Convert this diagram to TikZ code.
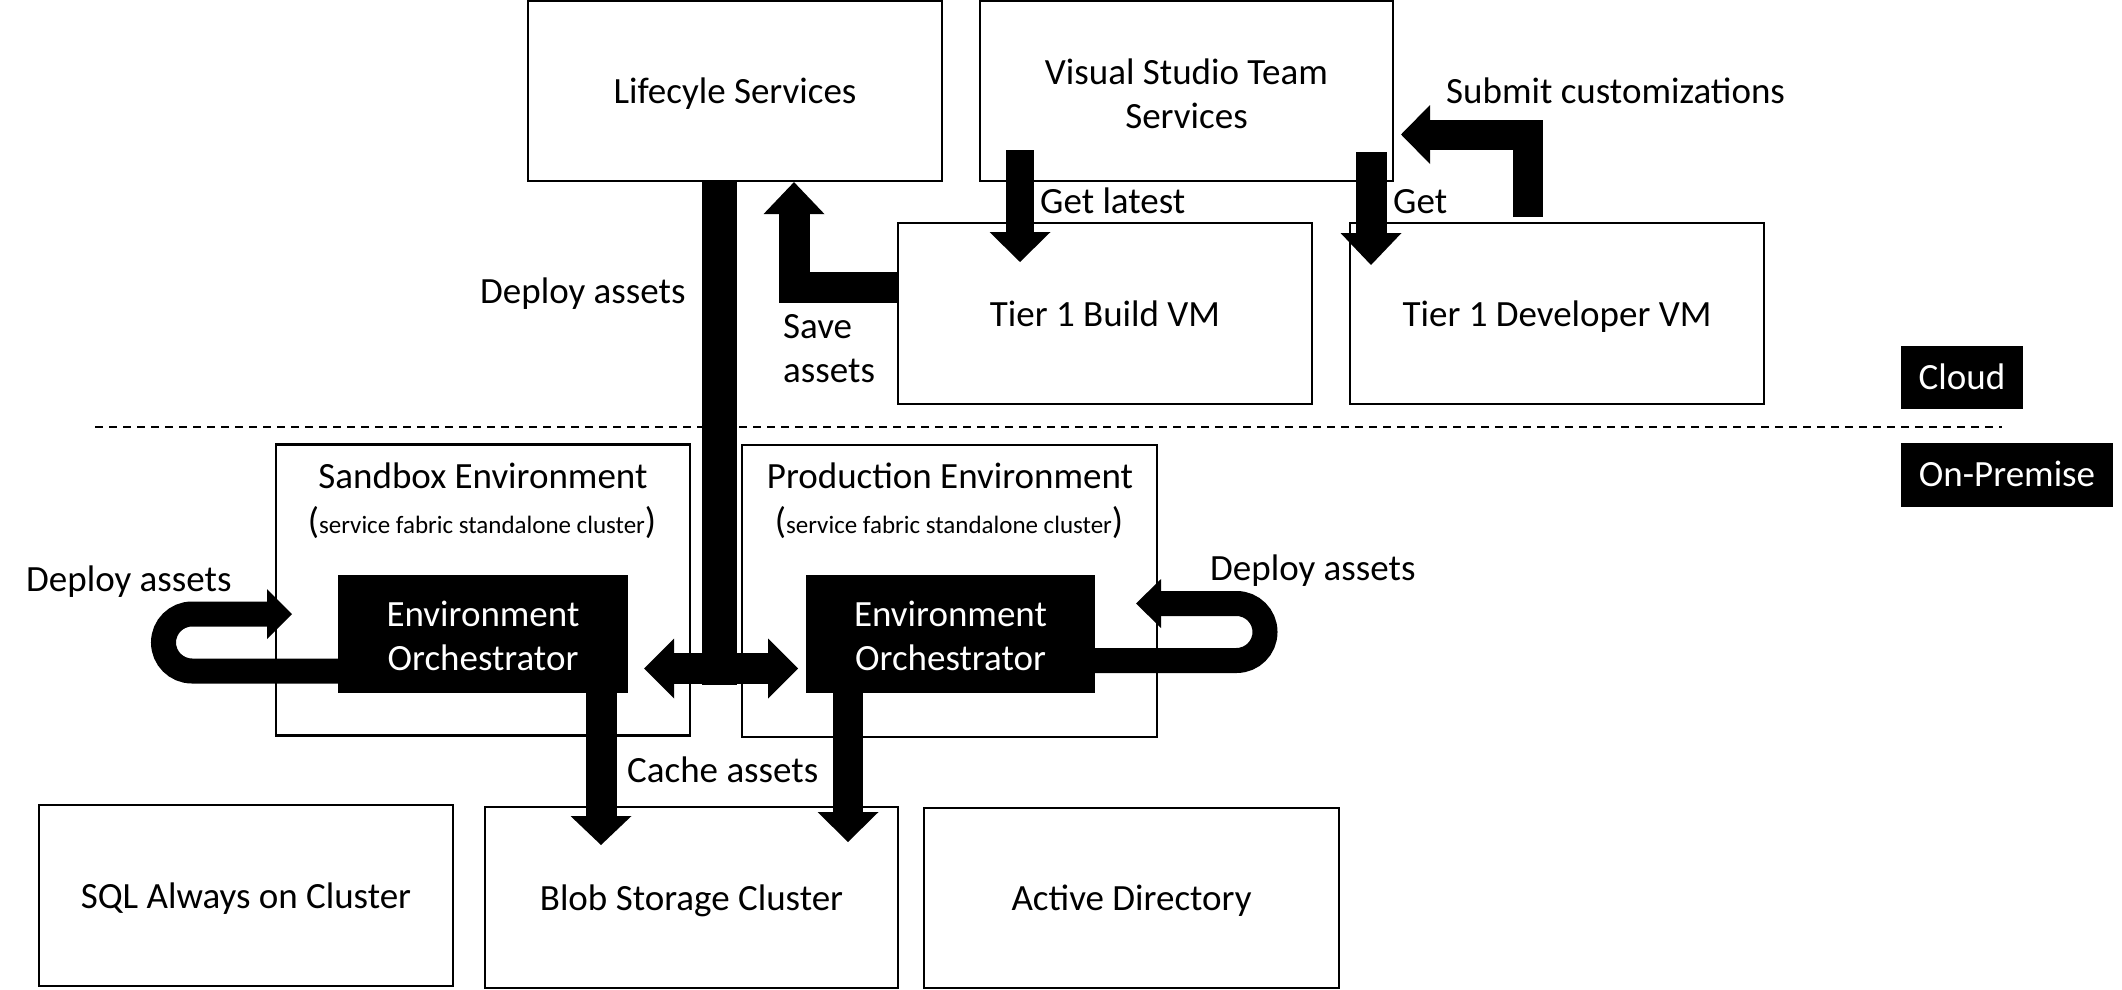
\documentclass[tikz,border=0pt]{standalone}
\usepackage{fontspec}
\setmainfont{Carlito}
\usetikzlibrary{arrows.meta,calc}
\newcommand{\mainfs}{\fontsize{37}{44}\selectfont}
\newcommand{\smallfs}{\fontsize{25}{30}\selectfont}
\tikzset{
  box/.style={draw, line width=2.2pt, inner sep=0pt, font=\mainfs, align=center,
              text height=26pt, text depth=0.5pt},
  darkbox/.style={fill=black, text=white, inner sep=0pt, font=\mainfs, align=center},
  lbl/.style={inner sep=0pt, font=\mainfs, align=left},
  blk/.style={draw=black, line join=miter, line cap=butt},
  tipA/.style={-{Triangle[length=#1, width=61pt, line width=0pt]}},
}
\begin{document}
\begin{tikzpicture}[x=1pt, y=-1pt]
\useasboundingbox (0,0) rectangle (2122,990);
% boxes
\node[box, minimum width=414pt, minimum height=180pt] (ls) at (735,91) {Lifecyle Services};
\node[box, minimum width=413pt, minimum height=180pt, text height=, text depth=] (vs) at (1186.5,91) {};
\node[lbl, align=center, anchor=center] (vst) at (1186.5,94) {Visual Studio Team\\Services};
\node[box, minimum width=414pt, minimum height=181pt] (b1) at (1105,313.5) {Tier 1 Build VM};
\node[box, minimum width=414pt, minimum height=181pt] (d1) at (1557,313.5) {Tier 1 Developer VM};
\node[box, minimum width=414pt, minimum height=291pt] (sb) at (483,590) {};
\node[box, minimum width=415pt, minimum height=292pt] (pe) at (949.5,591) {};
\node[box, minimum width=414pt, minimum height=181pt] (sql) at (246,895.5) {SQL Always on Cluster};
\node[box, minimum width=413pt, minimum height=181pt] (blob) at (691.5,897.5) {Blob Storage Cluster};
\node[box, minimum width=415pt, minimum height=180pt] (ad) at (1131.5,898) {Active Directory};
% environment titles
\node[lbl, anchor=base] (sbt) at (483,488) {Sandbox Environment};
\node[lbl, anchor=base] (sbs) at (482,533) {(\smallfs service fabric standalone cluster\mainfs)};
\node[lbl, anchor=base] (pet) at (950,488) {Production Environment};
\node[lbl, anchor=base] (pes) at (949,533) {(\smallfs service fabric standalone cluster\mainfs)};
% orchestrators
\node[darkbox, minimum width=290pt, minimum height=118pt] (so) at (483,634) {};
\node[darkbox, minimum width=289pt, minimum height=118pt] (po) at (950.5,634) {};
\node[lbl, align=center, text=white] (sot) at (483,636) {Environment\\Orchestrator};
\node[lbl, align=center, text=white] (pot) at (950.5,636) {Environment\\Orchestrator};
% zone labels
\node[darkbox, minimum width=122pt, minimum height=63pt, text height=25pt, text depth=2pt] (cloud) at (1962,377.5) {Cloud};
\node[darkbox, minimum width=212pt, minimum height=64pt, text height=25pt, text depth=2pt] (onp) at (2007,475) {On-Premise};
% dashed separator
\coordinate (dsl) at (95,427);
\coordinate (dsr) at (2002,427);
\draw[line width=2.5pt, dash pattern=on 8pt off 6pt] (dsl) -- (dsr);
% connector labels
\node[lbl, anchor=base west] (l1) at (480,303) {Deploy assets};
\node[lbl, anchor=west] (l2) at (783,349) {Save\\assets};
\node[lbl, anchor=base west] (l3) at (1040,213) {Get latest};
\node[lbl, anchor=base west] (l4) at (1393,213) {Get};
\node[lbl, anchor=base west] (l5) at (1446,103) {Submit customizations};
\node[lbl, anchor=base west] (l6) at (26,591) {Deploy assets};
\node[lbl, anchor=base west] (l7) at (1210,580) {Deploy assets};
\node[lbl, anchor=base west] (l8) at (627,782) {Cache assets};
% Lifecycle deploy trunk
\coordinate (trunk) at (719.5,684.5);
\draw[blk, line width=35pt] (ls.south -| trunk) -- (trunk);
% double arrow between orchestrators
\coordinate (dal) at (644,668.5);
\coordinate (dar) at (798,668.5);
\draw[blk, line width=31pt, {Triangle[length=30pt,width=60pt,line width=0pt]}-{Triangle[length=30pt,width=60pt,line width=0pt]}] (dal) -- (dar);
% save assets
\coordinate (sv) at (794,287);
\draw[blk, line width=31pt, tipA=32pt] (b1.west |- sv) -- (sv) -- (sv |- ls.south);
% get latest
\coordinate (glt) at (1020,150);
\coordinate (glb) at (1020,262);
\draw[blk, line width=28pt, tipA=30pt] (glt) -- (glb);
% get
\coordinate (gt) at (1371,152);
\coordinate (gb) at (1371,265);
\draw[blk, line width=31pt, tipA=32pt] (gt) -- (gb);
% submit customizations
\coordinate (sc) at (1528,134.5);
\coordinate (sct) at (1401,134.5);
\draw[blk, line width=30pt, -{Triangle[length=29pt,width=59pt,line width=0pt]}] (1528,217) -- (sc) -- (sct);
% left loop
\coordinate (llt) at (292,614);
\draw[blk, line width=25pt, -{Triangle[length=25pt,width=50pt,line width=0pt]}]
  ($(so.west)+(0,37)$) -- (192,671) arc[start angle=90, end angle=270, radius=28.5] -- (llt);
% right loop
\coordinate (rlt) at (1136,603.5);
\draw[blk, line width=25pt, -{Triangle[length=25pt,width=49pt,line width=0pt]}]
  ($(po.east)+(0,26.5)$) -- (1236.5,660.5) arc[start angle=90, end angle=-90, radius=28.5] -- (rlt);
% cache assets
\coordinate (c1) at (601,845);
\coordinate (c2) at (848,842);
\draw[blk, line width=31pt, tipA=29pt] (so.south -| c1) -- (c1);
\draw[blk, line width=30pt, tipA=30pt] (po.south -| c2) -- (c2);
\end{tikzpicture}
\end{document}
